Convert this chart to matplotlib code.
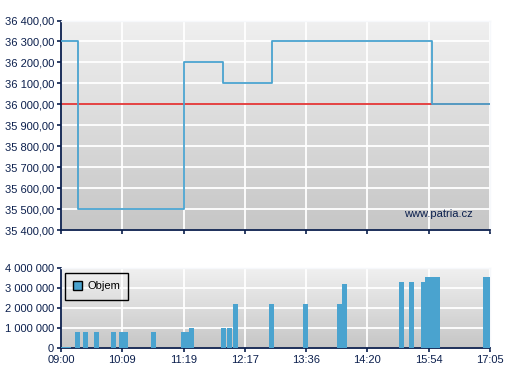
import numpy as np
import matplotlib
matplotlib.use("Agg")
import matplotlib.pyplot as plt
from matplotlib.colors import LinearSegmentedColormap
from matplotlib.patches import Patch
from matplotlib.ticker import FuncFormatter

plt.rcParams['font.family'] = ['Liberation Sans', 'DejaVu Sans']

# x axis is evenly spaced by label (category-like)
time_labels = ["09:00", "10:09", "11:19", "12:17", "13:36", "14:20", "15:54", "17:05"]

# price steps: position on the label scale, price
step_x = [0, 0.27, 2.0, 2.65, 3.44, 6.06, 7.0]
step_price = [36300, 35500, 36200, 36100, 36300, 36000, 36000]
ref_price = 36000

# volume bars: left edge, width, volume
vol_x = [0.0, 0.233, 0.364, 0.543, 0.816, 0.951, 1.473, 1.958, 2.093, 2.61, 2.708,
         2.801, 3.393, 3.948, 4.502, 4.584, 5.514, 5.677, 5.873, 5.938, 6.879]
vol_w = [0.16, 0.077, 0.077, 0.077, 0.077, 0.137, 0.077, 0.135, 0.077, 0.08, 0.08,
         0.08, 0.077, 0.077, 0.08, 0.08, 0.08, 0.08, 0.065, 0.245, 0.12]
vol_y = [60000, 820000, 820000, 820000, 820000, 820000, 820000, 820000, 1020000, 1020000, 1020000,
         2220000, 2220000, 2220000, 2220000, 3220000, 3320000, 3320000, 3320000, 3570000, 3570000]

navy = '#0b1f4d'
blue = '#4aa3cf'
grad = LinearSegmentedColormap.from_list('bg', ['#c6c6c6', '#f0f0f0'])

fig = plt.figure(figsize=(5.07, 3.80), dpi=100)
ax1 = fig.add_axes([61 / 507, 1 - 230 / 380, 429 / 507, 209.5 / 380])
ax2 = fig.add_axes([61 / 507, 1 - 348 / 380, 429 / 507, 80 / 380])


def style(ax):
    ax.imshow(np.linspace(0, 1, 256)[:, None], extent=[0, 1, 0, 1], transform=ax.transAxes,
              aspect='auto', cmap=grad, origin='lower', zorder=0)
    ax.set_xlim(0, 7)
    ax.set_xticks(range(8))
    ax.grid(True, color='white', linewidth=1.3, zorder=1)
    ax.set_axisbelow(True)
    for s in ['top', 'right']:
        ax.spines[s].set_color('#f6f8fb')
        ax.spines[s].set_linewidth(1)
    for s in ['left', 'bottom']:
        ax.spines[s].set_color(navy)
        ax.spines[s].set_linewidth(1.3)
    ax.tick_params(colors=navy, labelcolor=navy, labelsize=8, length=3, width=1.2, pad=2)


style(ax1)
ax1.step(step_x, step_price, where='post', color=blue, linewidth=1.3, zorder=3)
ax1.axhline(ref_price, color='#e02424', linewidth=1.2, zorder=2)
ax1.set_ylim(35400, 36400)
ax1.set_yticks(np.arange(35400, 36401, 100))
ax1.yaxis.set_major_formatter(FuncFormatter(lambda v, p: f"{v:,.2f}".replace(',', ' ').replace('.', ',')))
ax1.set_xticklabels([])
ax1.text(0.96, 0.075, "www.patria.cz", transform=ax1.transAxes, ha='right', va='center',
         color=navy, fontsize=8, zorder=4)

style(ax2)
ax2.bar(vol_x, vol_y, width=vol_w, align='edge', color=blue, zorder=3, linewidth=0)
ax2.set_ylim(0, 4000000)
ax2.set_yticks(np.arange(0, 4000001, 1000000))
ax2.yaxis.set_major_formatter(FuncFormatter(lambda v, p: f"{v:,.0f}".replace(',', ' ')))
ax2.set_xticklabels(time_labels)
leg = ax2.legend(handles=[Patch(facecolor=blue, edgecolor='black', label='Objem')],
                 loc='upper left', bbox_to_anchor=(0.009, 0.94), borderaxespad=0,
                 fancybox=False, framealpha=1, fontsize=8, handlelength=0.8, handleheight=0.8,
                 handletextpad=0.45, borderpad=0.75)
leg.get_frame().set_edgecolor('black')
leg.get_frame().set_facecolor('none')
leg.get_frame().set_linewidth(1)

fig.savefig("out.png", dpi=100)
